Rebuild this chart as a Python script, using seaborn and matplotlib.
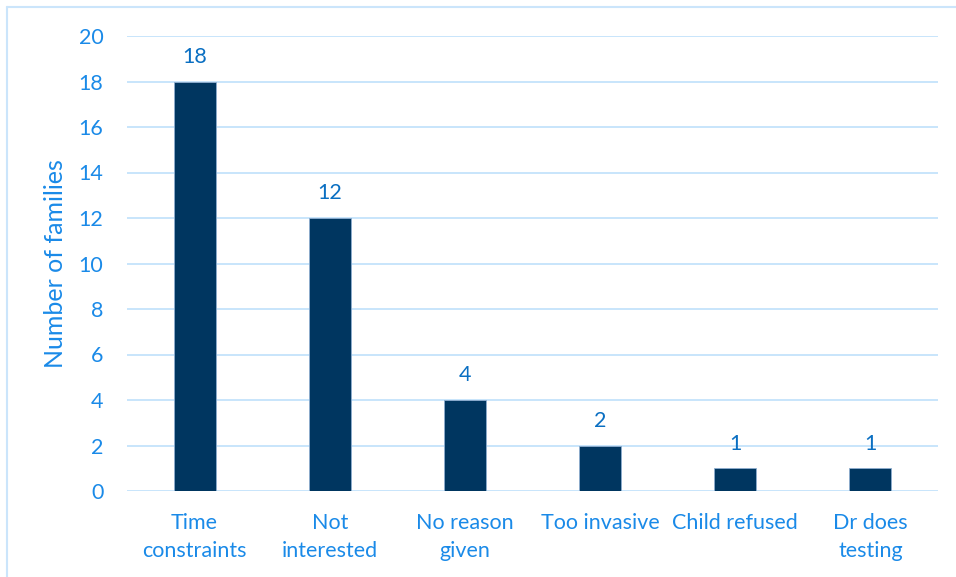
import matplotlib
matplotlib.use("Agg")
import matplotlib.pyplot as plt
import seaborn as sns
import pandas as pd
from matplotlib.lines import Line2D

categories = ["Time\nconstraints", "Not\ninterested", "No reason\ngiven", "Too invasive", "Child refused", "Dr does\ntesting"]
values = [18, 12, 4, 2, 1, 1]
yticks = [0, 2, 4, 6, 8, 10, 12, 14, 16, 18, 20]

sns.set_theme(style="white")
plt.rcParams['font.family'] = ['Lato', 'DejaVu Sans']

df = pd.DataFrame({"reason": categories, "count": values})

fig = plt.figure(figsize=(9.56, 5.77), dpi=100)
ax = fig.add_axes([127/956, 1 - 491/577, (938-127)/956, (491-36)/577])

sns.barplot(data=df, x="reason", y="count", color="#003660", width=0.31, ax=ax,
            edgecolor="#8eaed0", linewidth=0.6, saturation=1)

ax.set_ylim(0, 20)
ax.set_yticks(yticks)
ax.set_xlim(-0.5, len(categories) - 0.5)
ax.yaxis.grid(True, color="#bfe0fb", linewidth=1.2)
ax.set_axisbelow(True)
for s in ax.spines.values():
    s.set_visible(False)

tick_color = "#1a8ae8"
ax.tick_params(axis="y", colors=tick_color, labelsize=15.5, length=0, pad=17)
ax.tick_params(axis="x", colors=tick_color, labelsize=15.5, length=0, pad=16)
for t in ax.get_xticklabels():
    t.set_linespacing(1.5)
ax.set_xlabel("")
ax.set_ylabel("Number of families", color=tick_color, fontsize=18, labelpad=8)

for i, v in enumerate(values):
    ax.annotate(str(v), (i, v), xytext=(0, 10.5), textcoords="offset points",
                ha="center", va="bottom", color="#0a6fc2", fontsize=15.5)

fig.add_artist(Line2D([7/956, 1], [1 - 7/577, 1 - 7/577], transform=fig.transFigure, color="#cbe5fb", linewidth=1.5))
fig.add_artist(Line2D([7/956, 7/956], [0, 1 - 7/577], transform=fig.transFigure, color="#cbe5fb", linewidth=1.5))

fig.savefig("out.png", dpi=100)
